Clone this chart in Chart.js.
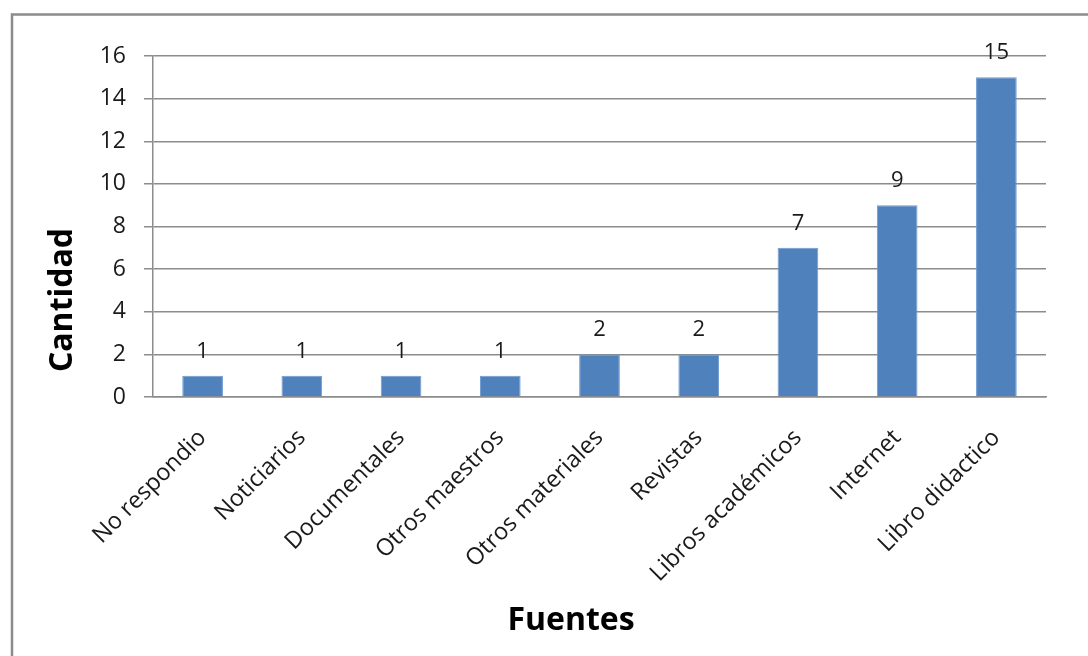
<!DOCTYPE html>
<html>
<head>
<meta charset="utf-8">
<script src="https://cdn.jsdelivr.net/npm/chart.js@4.4.1/dist/chart.umd.min.js"></script>
<style>
  html, body { margin: 0; padding: 0; background: #ffffff; }
  #wrap { width: 1088px; height: 656px; }
</style>
</head>
<body>
<div id="wrap"><canvas id="chart" width="1088" height="656"></canvas></div>
<script>
// Fuentes consultadas y cantidad de respuestas por fuente
const categorias = ['No respondio', 'Noticiarios', 'Documentales', 'Otros maestros',
  'Otros materiales', 'Revistas', 'Libros académicos', 'Internet', 'Libro didactico'];
const cantidades = [1, 1, 1, 1, 2, 2, 7, 9, 15];
const ejeY = { min: 0, max: 16, paso: 2 };
const tituloY = 'Cantidad';
const tituloX = 'Fuentes';

const FONT = "'Open Sans', 'Liberation Sans', sans-serif";
const GRIS = '#8c8c8c';
const TEXTO = '#1a1a1a';

// Marco exterior del gráfico
const marco = {
  id: 'marco',
  beforeDraw(chart) {
    const ctx = chart.ctx;
    ctx.save();
    ctx.fillStyle = '#ffffff';
    ctx.fillRect(0, 0, chart.width, chart.height);
    ctx.strokeStyle = GRIS;
    ctx.lineWidth = 2.5;
    ctx.strokeRect(12, 14.5, chart.width + 40, chart.height + 40);
    ctx.restore();
  }
};

// Valor encima de cada barra
const etiquetasValor = {
  id: 'etiquetasValor',
  afterDatasetsDraw(chart) {
    const ctx = chart.ctx;
    const meta = chart.getDatasetMeta(0);
    const datos = chart.data.datasets[0].data;
    ctx.save();
    ctx.font = '22px ' + FONT;
    ctx.fillStyle = TEXTO;
    ctx.textAlign = 'center';
    ctx.textBaseline = 'alphabetic';
    meta.data.forEach((bar, i) => {
      ctx.fillText(String(datos[i]), bar.x, bar.y - 18);
    });
    ctx.restore();
  }
};

// Títulos de los ejes
const titulosEjes = {
  id: 'titulosEjes',
  afterDraw(chart) {
    const ctx = chart.ctx;
    const a = chart.chartArea;
    ctx.save();
    ctx.fillStyle = '#000000';
    ctx.font = 'bold 32px ' + FONT;
    ctx.textAlign = 'center';
    ctx.textBaseline = 'middle';
    ctx.fillText(tituloX, a.left + 418, 621);
    ctx.translate(a.left - 90, a.top + 244);
    ctx.rotate(-Math.PI / 2);
    ctx.fillText(tituloY, 0, 0);
    ctx.restore();
  }
};

new Chart(document.getElementById('chart'), {
  type: 'bar',
  data: {
    labels: categorias,
    datasets: [{
      data: cantidades,
      backgroundColor: '#4f81bd',
      borderColor: '#6f9ad0',
      borderWidth: 1,
      barPercentage: 0.41,
      categoryPercentage: 1.0
    }]
  },
  options: {
    responsive: false,
    animation: false,
    events: [],
    layout: { padding: { left: 0, top: 56, right: 42, bottom: 0 } },
    plugins: {
      legend: { display: false },
      tooltip: { enabled: false },
      title: { display: false }
    },
    scales: {
      x: {
        afterFit(scale) { scale.height = 259; },
        grid: { drawOnChartArea: false, drawTicks: false },
        border: { display: true, color: GRIS, width: 1.5 },
        ticks: {
          minRotation: 45,
          maxRotation: 45,
          autoSkip: false,
          padding: 27,
          color: TEXTO,
          font: { family: FONT, size: 23.5 }
        }
      },
      y: {
        min: ejeY.min,
        max: ejeY.max,
        afterFit(scale) { scale.width = 153; },
        grid: { color: GRIS, lineWidth: 1.5, tickLength: 9 },
        border: { display: true, color: GRIS, width: 1.5 },
        ticks: {
          stepSize: ejeY.paso,
          padding: 18,
          color: TEXTO,
          font: { family: FONT, size: 23 }
        }
      }
    }
  },
  plugins: [marco, etiquetasValor, titulosEjes]
});
</script>
</body>
</html>
